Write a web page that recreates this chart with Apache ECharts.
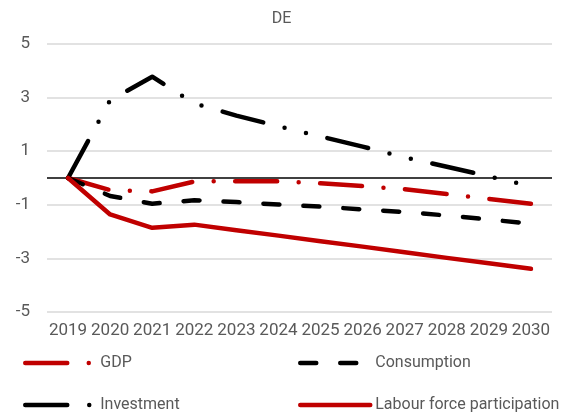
<!DOCTYPE html>
<html lang="en">
<head>
    <meta charset="UTF-8">
    <title>DE</title>
    <style>
        html, body { margin: 0; padding: 0; background: #fff; }
    </style>
</head>
<body>
<div id="myChart" style="width: 563px;height: 413px;"></div>
<script src="https://cdn.jsdelivr.net/npm/echarts@6/dist/echarts.min.js"></script>
<script>
    var myChart = echarts.init(document.querySelector("#myChart"));

    let years = ['2019', '2020', '2021', '2022', '2023', '2024', '2025', '2026', '2027', '2028', '2029', '2030'];
    let gdp = [0, -0.45, -0.5, -0.13, -0.12, -0.12, -0.2, -0.3, -0.42, -0.6, -0.78, -0.96];
    let consumption = [0, -0.67, -0.96, -0.83, -0.9, -0.99, -1.07, -1.17, -1.27, -1.4, -1.55, -1.7];
    let investment = [0, 2.9, 3.78, 2.78, 2.33, 1.93, 1.55, 1.17, 0.77, 0.42, 0.06, -0.3];
    let labour = [0, -1.36, -1.86, -1.74, -1.95, -2.15, -2.36, -2.56, -2.77, -2.98, -3.18, -3.39];

    let red = '#C00000';
    let txt = '#595959';
    let font = 'Roboto';

    function lineSeries(name, data, color, dash) {
        return {
            name: name,
            type: 'line',
            data: data,
            symbol: 'none',
            lineStyle: { color: color, width: 4.5, type: dash, cap: 'round', join: 'round' },
            itemStyle: { color: color },
            z: 3
        };
    }

    // one legend per entry so the two columns line up
    function legendItem(name, left, top) {
        return {
            data: [name],
            left: left, top: top,
            itemWidth: 70, itemHeight: 14,
            itemStyle: { opacity: 0 },
            lineStyle: { width: 4.5, cap: 'round' },
            textStyle: { color: txt, fontSize: 16, fontFamily: font }
        };
    }

    option = {
        animation: false,
        title: {
            text: 'DE',
            left: 'center',
            top: 6,
            textStyle: { color: txt, fontSize: 16, fontWeight: 'normal', fontFamily: font }
        },
        grid: { left: 47, right: 11, top: 44, bottom: 101, containLabel: false },
        legend: [
            legendItem('GDP', 18, 350),
            legendItem('Consumption', 293, 350),
            legendItem('Investment', 18, 392),
            legendItem('Labour force participation', 293, 392)
        ],
        xAxis: {
            type: 'category',
            data: years,
            boundaryGap: true,
            axisLine: { show: false },
            axisTick: { show: false },
            axisLabel: { color: txt, fontSize: 17, fontFamily: font, interval: 0, margin: 10 }
        },
        yAxis: {
            type: 'value',
            min: -5, max: 5, interval: 2,
            axisLine: { show: false },
            axisTick: { show: false },
            axisLabel: { color: txt, fontSize: 17, fontFamily: font, margin: 17 },
            splitLine: { lineStyle: { color: '#D9D9D9', width: 1.5 } }
        },
        series: [
            Object.assign(lineSeries('GDP', gdp, red, [42, 21.5, 0, 21.5]), {
                markLine: {
                    silent: true,
                    symbol: 'none',
                    label: { show: false },
                    lineStyle: { color: '#000', width: 1.5, type: 'solid' },
                    data: [{ yAxis: 0 }],
                    z: 2
                }
            }),
            lineSeries('Consumption', consumption, '#000', [16, 24]),
            lineSeries('Investment', investment, '#000', [42, 22, 0, 22, 0, 22]),
            lineSeries('Labour force participation', labour, red, 'solid')
        ]
    };
    myChart.setOption(option);
</script>
</body>
</html>
